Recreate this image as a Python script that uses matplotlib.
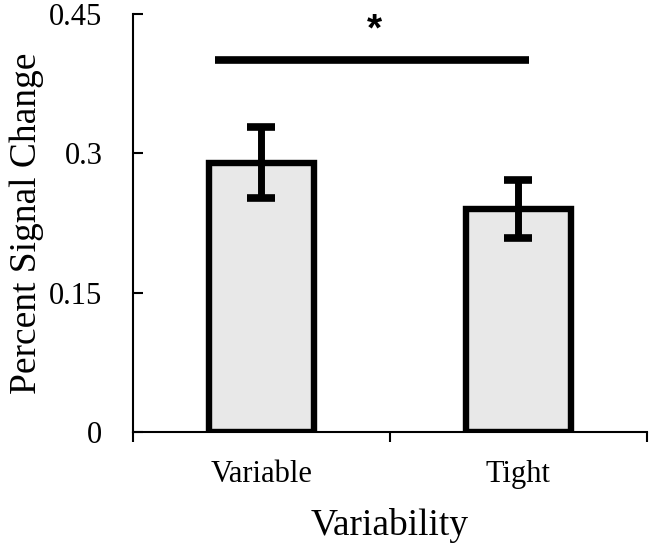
import matplotlib
matplotlib.use("Agg")
import matplotlib.pyplot as plt

categories = ["Variable", "Tight"]
psc = [0.29, 0.24]
sem = [0.038, 0.031]
yticks = [0, 0.15, 0.3, 0.45]
ytick_labels = ["0", "0.15", "0.3", "0.45"]
sig_y = 0.40

plt.rcParams['font.family'] = ['Liberation Serif', 'DejaVu Serif']

fig = plt.figure(figsize=(6.52, 5.49), dpi=100)
ax = fig.add_axes([0.204, 0.213, 0.788, 0.7615])

x = list(range(len(categories)))
ax.bar(x, psc, width=0.41, color='#e8e8e8', edgecolor='black', linewidth=4.6, zorder=2)
ax.errorbar(x, psc, yerr=sem, fmt='none', ecolor='black', elinewidth=5,
            capsize=10, capthick=5.5, zorder=3)

# significance bar + star
ax.plot([-0.18, 1.04], [sig_y, sig_y], color='black', lw=5.5, solid_capstyle='butt',
        clip_on=False)
ax.text(0.44, 0.452, '*', ha='center', va='top', fontsize=28, fontweight='bold',
        family='Liberation Sans', clip_on=False)

ax.set_xlim(-0.5, 1.5)
ax.set_ylim(0, 0.45)
ax.set_yticks(yticks)
ax.set_yticklabels(ytick_labels)
ax.set_xticks(x)
ax.set_xticklabels(categories)
ax.set_xticks([-0.5, 0.5, 1.5], minor=True)

ax.tick_params(axis='y', direction='in', length=7, width=1.5, labelsize=22, pad=22)
ax.tick_params(axis='x', which='major', length=0, labelsize=22, pad=20)
ax.tick_params(axis='x', which='minor', direction='out', length=7, width=1.5)

for s in ['top', 'right']:
    ax.spines[s].set_visible(False)
for s in ['left', 'bottom']:
    ax.spines[s].set_linewidth(1.5)

ax.set_xlabel('Variability', fontsize=27, labelpad=14)
ax.set_ylabel('Percent Signal Change', fontsize=27, labelpad=4)

fig.savefig('out.png', dpi=100)
